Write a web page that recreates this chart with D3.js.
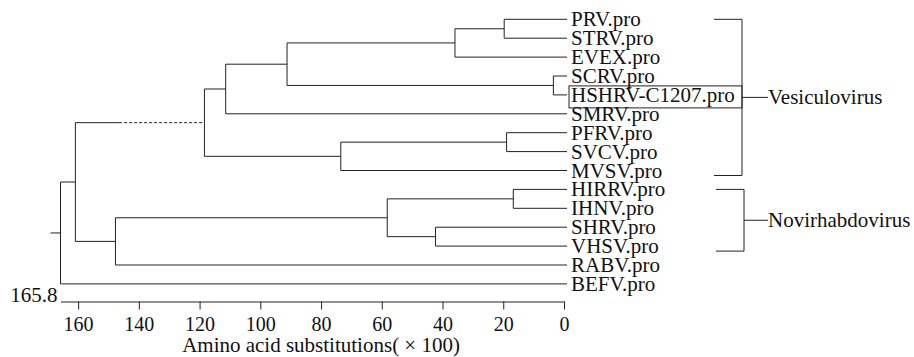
<!DOCTYPE html>
<meta charset="utf-8">
<head>
<title>Rhabdovirus tree</title>
</head>
<style>
html, body { margin: 0; background: #fff; overflow: hidden; }
svg text { font-family: "Liberation Serif", "Times New Roman", "DejaVu Serif", serif; fill: #111; }
.branch { stroke: #222; stroke-width: 1px; fill: none; }
</style>
<body>
<script src="https://cdn.jsdelivr.net/npm/d3@7"></script>
<script>

// leaf order, top to bottom
var leaves = ["PRV.pro", "STRV.pro", "EVEX.pro", "SCRV.pro", "HSHRV-C1207.pro",
              "SMRV.pro", "PFRV.pro", "SVCV.pro", "MVSV.pro", "HIRRV.pro",
              "IHNV.pro", "SHRV.pro", "VHSV.pro", "RABV.pro", "BEFV.pro"];

// joins: [child a, child b, height]  (cN = result of join N)
var joins = [
  ["PRV.pro", "STRV.pro", 19.7],     // c0
  ["c0", "EVEX.pro", 35.9],          // c1
  ["SCRV.pro", "HSHRV-C1207.pro", 3.5], // c2
  ["c1", "c2", 91.2],                // c3
  ["c3", "SMRV.pro", 111.4],         // c4
  ["PFRV.pro", "SVCV.pro", 18.9],    // c5
  ["c5", "MVSV.pro", 73.5],          // c6
  ["c4", "c6", 118.4],               // c7
  ["HIRRV.pro", "IHNV.pro", 16.7],   // c8
  ["SHRV.pro", "VHSV.pro", 42.3],    // c9
  ["c8", "c9", 58.2],                // c10
  ["c10", "RABV.pro", 147.7],        // c11
  ["c7", "c11", 160.9],              // c12
  ["c12", "BEFV.pro", 165.8]         // c13 root
];

// branch drawn dashed over part of its length (child node, dashed up to height)
var dashedBranch = { node: "c7", upTo: 146.5 };

var boxedLeaf = "HSHRV-C1207.pro";

var groups = [
  { name: "Vesiculovirus", first: "PRV.pro", last: "MVSV.pro" },
  { name: "Novirhabdovirus", first: "HIRRV.pro", last: "VHSV.pro" }
];

var tickValues = [160, 140, 120, 100, 80, 60, 40, 20, 0];
var rootHeight = 165.8;
var axisTitle = "Amino acid substitutions( \u00d7 100)";

var width = 914, height = 357;
var serif = "'Liberation Serif', 'Times New Roman', 'DejaVu Serif', serif";

var svg = d3.select("body").append("svg")
    .attr("width", width)
    .attr("height", height);

var x = d3.scaleLinear().domain([rootHeight, 0]).range([60.5, 564]);
var y = d3.scalePoint().domain(leaves).range([19.3, 283.9]);

// build node table
var nodes = {};
leaves.forEach(function (l) { nodes[l] = { id: l, h: 0, y: y(l), leaf: true }; });
joins.forEach(function (j, i) {
  var a = nodes[j[0]], b = nodes[j[1]];
  var n = { id: "c" + i, h: j[2], y: (a.y + b.y) / 2, children: [a, b] };
  a.parent = n; b.parent = n;
  nodes[n.id] = n;
});
var root = nodes["c" + (joins.length - 1)];

var g = svg.append("g");

// horizontal branches
Object.keys(nodes).forEach(function (k) {
  var n = nodes[k];
  if (!n.parent) return;
  var x1 = x(n.parent.h), x2 = n.leaf ? x(0) + 3 : x(n.h);
  if (k === dashedBranch.node) {
    var xm = x(dashedBranch.upTo);
    g.append("line").attr("class", "branch")
      .attr("x1", x1).attr("x2", xm).attr("y1", n.y).attr("y2", n.y);
    g.append("line").attr("class", "branch")
      .attr("stroke-dasharray", "3,2")
      .attr("x1", xm).attr("x2", x2).attr("y1", n.y).attr("y2", n.y);
  } else {
    g.append("line").attr("class", "branch")
      .attr("x1", x1).attr("x2", x2).attr("y1", n.y).attr("y2", n.y);
  }
});
// vertical connectors
joins.forEach(function (j, i) {
  var n = nodes["c" + i];
  g.append("line").attr("class", "branch")
    .attr("x1", x(n.h)).attr("x2", x(n.h))
    .attr("y1", n.children[0].y).attr("y2", n.children[1].y);
});

// root stem
g.append("line").attr("class", "branch")
  .attr("x1", x(rootHeight) - 10).attr("x2", x(rootHeight))
  .attr("y1", root.y).attr("y2", root.y);

// leaf labels
g.selectAll("text.leaf")
  .data(leaves)
  .enter().append("text")
  .attr("class", "leaf")
  .attr("x", x(0) + 7)
  .attr("y", function (d) { return y(d) + 7; })
  .attr("font-family", serif)
  .style("font-size", "21px")
  .text(function (d) { return d; });

// box round the new isolate
var bx = g.selectAll("text.leaf").filter(function (d) { return d === boxedLeaf; }).node().getBBox();
g.append("rect")
  .attr("x", bx.x - 2).attr("y", y(boxedLeaf) - 9)
  .attr("width", 742 - bx.x + 2).attr("height", 22)
  .attr("fill", "none").attr("stroke", "#222");

// genus brackets
groups.forEach(function (gr, i) {
  var top = y(gr.first), bot = y(gr.last) + 5, mid = (top + bot) / 2;
  var bxr = i === 0 ? 742 : 744;
  g.append("path").attr("class", "branch")
    .attr("d", "M" + (bxr - 28) + "," + top + "H" + bxr + "V" + bot + "H" + (bxr - 28));
  g.append("line").attr("class", "branch")
    .attr("x1", bxr).attr("x2", 768).attr("y1", mid).attr("y2", mid);
  g.append("text")
    .attr("x", 768).attr("y", mid + 7)
    .attr("font-family", serif)
    .style("font-size", "21px")
    .text(gr.name);
});

// scale axis
var axis = d3.axisBottom(x)
  .tickValues(tickValues)
  .tickSize(8)
  .tickSizeOuter(0)
  .tickPadding(7);

var ax = svg.append("g")
  .attr("transform", "translate(0,301.5)")
  .call(axis);
ax.attr("font-family", serif);
ax.select(".domain").attr("stroke", "#222");
ax.selectAll(".tick line").attr("stroke", "#222");
ax.selectAll(".tick text")
  .style("font-family", serif)
  .style("font-size", "20px")
  .attr("fill", "#111");

svg.append("text")
  .attr("x", x(rootHeight) - 3).attr("y", 302)
  .attr("text-anchor", "end")
  .attr("font-family", serif)
  .style("font-size", "21px")
  .text(rootHeight);

svg.append("text")
  .attr("x", (x(160) + x(0)) / 2).attr("y", 352)
  .attr("text-anchor", "middle")
  .attr("font-family", serif)
  .style("font-size", "21px")
  .text(axisTitle);

</script>
</body>
